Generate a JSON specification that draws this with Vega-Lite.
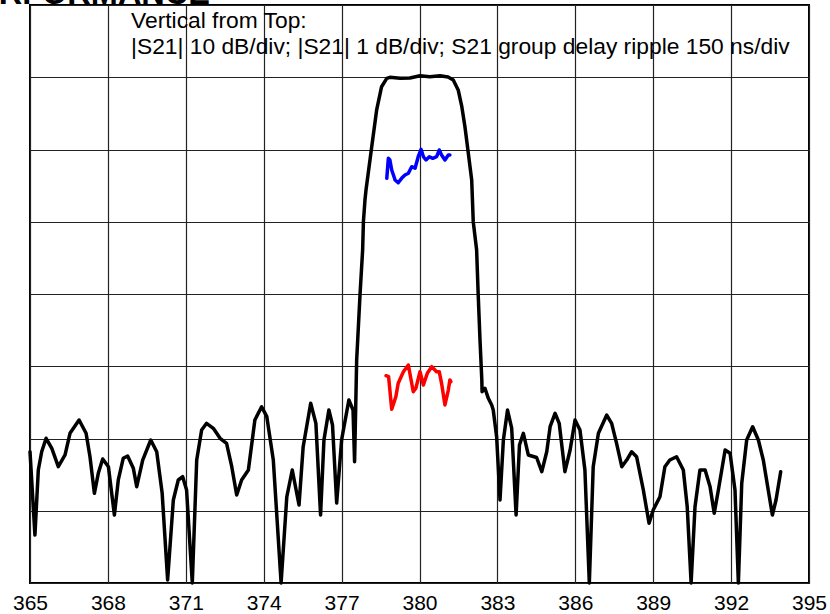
{
  "$schema": "https://vega.github.io/schema/vega-lite/v6.json",
  "autosize": {"type": "none"},
  "width": 779,
  "height": 578,
  "padding": {"left": 30, "top": 5, "right": 21, "bottom": 31},
  "background": "white",
  "config": {
    "font": "Liberation Sans",
    "view": {"stroke": "#000000", "strokeWidth": 2}
  },
  "layer": [
    {
      "data": {"values": [
        {"f":365.00,"v":-61.83,"s":"S21 10 dB/div"},{"f":365.19,"v":-73.36,"s":"S21 10 dB/div"},{"f":365.32,"v":-64.36,"s":"S21 10 dB/div"},{"f":365.45,"v":-61.83,"s":"S21 10 dB/div"},{"f":365.62,"v":-59.97,"s":"S21 10 dB/div"},{"f":365.84,"v":-61.36,"s":"S21 10 dB/div"},{"f":366.09,"v":-63.90,"s":"S21 10 dB/div"},{"f":366.35,"v":-62.28,"s":"S21 10 dB/div"},{"f":366.54,"v":-59.28,"s":"S21 10 dB/div"},{"f":366.89,"v":-57.44,"s":"S21 10 dB/div"},
        {"f":367.16,"v":-59.28,"s":"S21 10 dB/div"},{"f":367.31,"v":-62.52,"s":"S21 10 dB/div"},{"f":367.48,"v":-67.59,"s":"S21 10 dB/div"},{"f":367.63,"v":-64.82,"s":"S21 10 dB/div"},{"f":367.80,"v":-62.84,"s":"S21 10 dB/div"},{"f":368.02,"v":-63.90,"s":"S21 10 dB/div"},{"f":368.25,"v":-70.59,"s":"S21 10 dB/div"},{"f":368.40,"v":-65.74,"s":"S21 10 dB/div"},{"f":368.59,"v":-62.74,"s":"S21 10 dB/div"},{"f":368.76,"v":-62.42,"s":"S21 10 dB/div"},
        {"f":368.98,"v":-64.13,"s":"S21 10 dB/div"},{"f":369.11,"v":-66.67,"s":"S21 10 dB/div"},{"f":369.34,"v":-62.98,"s":"S21 10 dB/div"},{"f":369.65,"v":-60.21,"s":"S21 10 dB/div"},{"f":369.88,"v":-61.83,"s":"S21 10 dB/div"},{"f":370.09,"v":-67.59,"s":"S21 10 dB/div"},{"f":370.30,"v":-79.58,"s":"S21 10 dB/div"},{"f":370.52,"v":-68.51,"s":"S21 10 dB/div"},{"f":370.71,"v":-65.74,"s":"S21 10 dB/div"},{"f":370.88,"v":-65.29,"s":"S21 10 dB/div"},
        {"f":371.03,"v":-67.13,"s":"S21 10 dB/div"},{"f":371.25,"v":-80.0,"s":"S21 10 dB/div"},{"f":371.42,"v":-62.98,"s":"S21 10 dB/div"},{"f":371.61,"v":-58.82,"s":"S21 10 dB/div"},{"f":371.80,"v":-57.90,"s":"S21 10 dB/div"},{"f":372.06,"v":-58.59,"s":"S21 10 dB/div"},{"f":372.32,"v":-59.97,"s":"S21 10 dB/div"},{"f":372.57,"v":-60.67,"s":"S21 10 dB/div"},{"f":372.77,"v":-63.90,"s":"S21 10 dB/div"},{"f":372.96,"v":-67.82,"s":"S21 10 dB/div"},
        {"f":373.15,"v":-65.74,"s":"S21 10 dB/div"},{"f":373.41,"v":-64.36,"s":"S21 10 dB/div"},{"f":373.66,"v":-57.44,"s":"S21 10 dB/div"},{"f":373.92,"v":-55.60,"s":"S21 10 dB/div"},{"f":374.12,"v":-56.98,"s":"S21 10 dB/div"},{"f":374.37,"v":-62.98,"s":"S21 10 dB/div"},{"f":374.67,"v":-80.0,"s":"S21 10 dB/div"},{"f":374.89,"v":-68.06,"s":"S21 10 dB/div"},{"f":375.10,"v":-64.36,"s":"S21 10 dB/div"},{"f":375.36,"v":-69.21,"s":"S21 10 dB/div"},
        {"f":375.52,"v":-61.14,"s":"S21 10 dB/div"},{"f":375.81,"v":-55.13,"s":"S21 10 dB/div"},{"f":376.01,"v":-57.90,"s":"S21 10 dB/div"},{"f":376.19,"v":-70.59,"s":"S21 10 dB/div"},{"f":376.32,"v":-60.21,"s":"S21 10 dB/div"},{"f":376.51,"v":-56.06,"s":"S21 10 dB/div"},{"f":376.65,"v":-58.13,"s":"S21 10 dB/div"},{"f":376.81,"v":-68.93,"s":"S21 10 dB/div"},{"f":377.00,"v":-60.21,"s":"S21 10 dB/div"},{"f":377.28,"v":-54.67,"s":"S21 10 dB/div"},
        {"f":377.44,"v":-56.06,"s":"S21 10 dB/div"},{"f":377.50,"v":-63.21,"s":"S21 10 dB/div"},{"f":377.58,"v":-49.14,"s":"S21 10 dB/div"},{"f":377.62,"v":-46.37,"s":"S21 10 dB/div"},{"f":377.71,"v":-40.04,"s":"S21 10 dB/div"},{"f":377.81,"v":-33.91,"s":"S21 10 dB/div"},{"f":377.84,"v":-29.99,"s":"S21 10 dB/div"},{"f":377.90,"v":-26.99,"s":"S21 10 dB/div"},{"f":377.94,"v":-25.61,"s":"S21 10 dB/div"},{"f":378.16,"v":-19.61,"s":"S21 10 dB/div"},
        {"f":378.35,"v":-14.53,"s":"S21 10 dB/div"},{"f":378.54,"v":-11.31,"s":"S21 10 dB/div"},{"f":378.74,"v":-10.15,"s":"S21 10 dB/div"},{"f":378.86,"v":-10.01,"s":"S21 10 dB/div"},{"f":379.25,"v":-10.15,"s":"S21 10 dB/div"},{"f":379.63,"v":-10.10,"s":"S21 10 dB/div"},{"f":380.02,"v":-9.79,"s":"S21 10 dB/div"},{"f":380.40,"v":-9.92,"s":"S21 10 dB/div"},{"f":380.79,"v":-9.79,"s":"S21 10 dB/div"},{"f":381.10,"v":-9.97,"s":"S21 10 dB/div"},
        {"f":381.30,"v":-10.38,"s":"S21 10 dB/div"},{"f":381.49,"v":-11.76,"s":"S21 10 dB/div"},{"f":381.63,"v":-14.08,"s":"S21 10 dB/div"},{"f":381.75,"v":-16.84,"s":"S21 10 dB/div"},{"f":381.88,"v":-20.53,"s":"S21 10 dB/div"},{"f":382.01,"v":-24.22,"s":"S21 10 dB/div"},{"f":382.07,"v":-29.99,"s":"S21 10 dB/div"},{"f":382.20,"v":-33.91,"s":"S21 10 dB/div"},{"f":382.26,"v":-40.04,"s":"S21 10 dB/div"},{"f":382.33,"v":-46.37,"s":"S21 10 dB/div"},
        {"f":382.40,"v":-51.90,"s":"S21 10 dB/div"},{"f":382.41,"v":-53.52,"s":"S21 10 dB/div"},{"f":382.52,"v":-53.05,"s":"S21 10 dB/div"},{"f":382.65,"v":-54.44,"s":"S21 10 dB/div"},{"f":382.78,"v":-55.36,"s":"S21 10 dB/div"},{"f":382.84,"v":-56.06,"s":"S21 10 dB/div"},{"f":382.97,"v":-59.75,"s":"S21 10 dB/div"},{"f":383.10,"v":-68.51,"s":"S21 10 dB/div"},{"f":383.23,"v":-60.21,"s":"S21 10 dB/div"},{"f":383.39,"v":-56.06,"s":"S21 10 dB/div"},
        {"f":383.55,"v":-58.55,"s":"S21 10 dB/div"},{"f":383.72,"v":-70.59,"s":"S21 10 dB/div"},{"f":383.85,"v":-60.90,"s":"S21 10 dB/div"},{"f":384.00,"v":-59.28,"s":"S21 10 dB/div"},{"f":384.19,"v":-62.28,"s":"S21 10 dB/div"},{"f":384.51,"v":-62.63,"s":"S21 10 dB/div"},{"f":384.71,"v":-64.59,"s":"S21 10 dB/div"},{"f":384.90,"v":-61.83,"s":"S21 10 dB/div"},{"f":385.03,"v":-58.37,"s":"S21 10 dB/div"},{"f":385.22,"v":-56.51,"s":"S21 10 dB/div"},
        {"f":385.38,"v":-57.90,"s":"S21 10 dB/div"},{"f":385.60,"v":-64.59,"s":"S21 10 dB/div"},{"f":385.80,"v":-61.59,"s":"S21 10 dB/div"},{"f":385.99,"v":-57.44,"s":"S21 10 dB/div"},{"f":386.18,"v":-58.82,"s":"S21 10 dB/div"},{"f":386.37,"v":-64.36,"s":"S21 10 dB/div"},{"f":386.54,"v":-80.0,"s":"S21 10 dB/div"},{"f":386.69,"v":-63.90,"s":"S21 10 dB/div"},{"f":386.89,"v":-59.28,"s":"S21 10 dB/div"},{"f":387.21,"v":-56.75,"s":"S21 10 dB/div"},
        {"f":387.40,"v":-57.90,"s":"S21 10 dB/div"},{"f":387.59,"v":-60.67,"s":"S21 10 dB/div"},{"f":387.79,"v":-63.90,"s":"S21 10 dB/div"},{"f":387.98,"v":-62.98,"s":"S21 10 dB/div"},{"f":388.17,"v":-61.83,"s":"S21 10 dB/div"},{"f":388.36,"v":-62.52,"s":"S21 10 dB/div"},{"f":388.62,"v":-67.13,"s":"S21 10 dB/div"},{"f":388.84,"v":-71.74,"s":"S21 10 dB/div"},{"f":389.00,"v":-69.90,"s":"S21 10 dB/div"},{"f":389.26,"v":-68.06,"s":"S21 10 dB/div"},
        {"f":389.45,"v":-63.90,"s":"S21 10 dB/div"},{"f":389.64,"v":-62.98,"s":"S21 10 dB/div"},{"f":389.90,"v":-62.52,"s":"S21 10 dB/div"},{"f":390.16,"v":-64.36,"s":"S21 10 dB/div"},{"f":390.31,"v":-69.44,"s":"S21 10 dB/div"},{"f":390.46,"v":-80.0,"s":"S21 10 dB/div"},{"f":390.61,"v":-69.44,"s":"S21 10 dB/div"},{"f":390.80,"v":-64.36,"s":"S21 10 dB/div"},{"f":391.00,"v":-64.36,"s":"S21 10 dB/div"},{"f":391.19,"v":-66.67,"s":"S21 10 dB/div"},
        {"f":391.35,"v":-70.35,"s":"S21 10 dB/div"},{"f":391.51,"v":-67.13,"s":"S21 10 dB/div"},{"f":391.77,"v":-61.59,"s":"S21 10 dB/div"},{"f":391.96,"v":-62.05,"s":"S21 10 dB/div"},{"f":392.15,"v":-67.13,"s":"S21 10 dB/div"},{"f":392.28,"v":-80.0,"s":"S21 10 dB/div"},{"f":392.41,"v":-66.20,"s":"S21 10 dB/div"},{"f":392.60,"v":-60.21,"s":"S21 10 dB/div"},{"f":392.83,"v":-58.37,"s":"S21 10 dB/div"},{"f":393.05,"v":-60.21,"s":"S21 10 dB/div"},
        {"f":393.24,"v":-62.98,"s":"S21 10 dB/div"},{"f":393.43,"v":-67.13,"s":"S21 10 dB/div"},{"f":393.59,"v":-70.59,"s":"S21 10 dB/div"},{"f":393.73,"v":-68.51,"s":"S21 10 dB/div"},{"f":393.91,"v":-64.59,"s":"S21 10 dB/div"},
        {"f":378.74,"v":-23.99,"s":"S21 1 dB/div"},{"f":378.80,"v":-21.22,"s":"S21 1 dB/div"},{"f":378.86,"v":-21.45,"s":"S21 1 dB/div"},{"f":378.93,"v":-22.84,"s":"S21 1 dB/div"},{"f":379.06,"v":-24.22,"s":"S21 1 dB/div"},{"f":379.18,"v":-24.60,"s":"S21 1 dB/div"},{"f":379.31,"v":-23.99,"s":"S21 1 dB/div"},{"f":379.44,"v":-23.53,"s":"S21 1 dB/div"},{"f":379.57,"v":-23.29,"s":"S21 1 dB/div"},{"f":379.70,"v":-22.38,"s":"S21 1 dB/div"},
        {"f":379.83,"v":-22.60,"s":"S21 1 dB/div"},{"f":379.95,"v":-21.00,"s":"S21 1 dB/div"},{"f":380.06,"v":-19.97,"s":"S21 1 dB/div"},{"f":380.15,"v":-21.00,"s":"S21 1 dB/div"},{"f":380.25,"v":-21.45,"s":"S21 1 dB/div"},{"f":380.38,"v":-21.00,"s":"S21 1 dB/div"},{"f":380.51,"v":-21.22,"s":"S21 1 dB/div"},{"f":380.66,"v":-21.00,"s":"S21 1 dB/div"},{"f":380.76,"v":-20.07,"s":"S21 1 dB/div"},{"f":380.85,"v":-20.76,"s":"S21 1 dB/div"},
        {"f":380.98,"v":-21.45,"s":"S21 1 dB/div"},{"f":381.11,"v":-20.76,"s":"S21 1 dB/div"},{"f":381.17,"v":-20.76,"s":"S21 1 dB/div"},
        {"f":378.71,"v":-51.31,"s":"Group delay"},{"f":378.81,"v":-51.45,"s":"Group delay"},{"f":378.93,"v":-55.96,"s":"Group delay"},{"f":379.09,"v":-54.21,"s":"Group delay"},{"f":379.18,"v":-52.36,"s":"Group delay"},{"f":379.38,"v":-50.75,"s":"Group delay"},{"f":379.57,"v":-49.83,"s":"Group delay"},{"f":379.70,"v":-52.36,"s":"Group delay"},{"f":379.76,"v":-53.52,"s":"Group delay"},{"f":379.86,"v":-53.05,"s":"Group delay"},
        {"f":380.02,"v":-50.75,"s":"Group delay"},{"f":380.15,"v":-52.60,"s":"Group delay"},{"f":380.30,"v":-50.98,"s":"Group delay"},{"f":380.47,"v":-50.06,"s":"Group delay"},{"f":380.66,"v":-50.75,"s":"Group delay"},{"f":380.76,"v":-50.75,"s":"Group delay"},{"f":380.85,"v":-52.36,"s":"Group delay"},{"f":380.98,"v":-55.36,"s":"Group delay"},{"f":381.11,"v":-53.29,"s":"Group delay"},{"f":381.17,"v":-51.90,"s":"Group delay"},
        {"f":381.21,"v":-52.14,"s":"Group delay"}
      ]},
      "mark": {"type": "line", "strokeWidth": 3.5, "strokeJoin": "round", "strokeCap": "round", "clip": false},
      "encoding": {
        "x": {
          "field": "f", "type": "quantitative",
          "scale": {"domain": [365, 395], "nice": false, "zero": false},
          "axis": {
            "values": [365, 368, 371, 374, 377, 380, 383, 386, 389, 392, 395],
            "title": null, "grid": true, "gridColor": "#222222", "gridWidth": 1.2, "gridOpacity": 1,
            "ticks": false, "domain": false,
            "labelFont": "Liberation Sans", "labelFontSize": 21, "labelColor": "#000000",
            "labelPadding": 9, "labelFlush": false, "labelOverlap": false
          }
        },
        "y": {
          "field": "v", "type": "quantitative",
          "scale": {"domain": [-80, 0], "nice": false, "zero": false},
          "axis": {
            "values": [-80, -70, -60, -50, -40, -30, -20, -10, 0],
            "title": null, "grid": true, "gridColor": "#222222", "gridWidth": 1.2, "gridOpacity": 1,
            "ticks": false, "domain": false, "labels": false
          }
        },
        "color": {
          "field": "s", "type": "nominal",
          "scale": {"domain": ["S21 10 dB/div", "S21 1 dB/div", "Group delay"], "range": ["#000000", "#0000ff", "#ff0000"]},
          "legend": null
        },
        "order": {"field": "f", "type": "quantitative"}
      }
    },
    {
      "data": {"values": [
        {"f": 368.89, "v": -3.18, "t": "Vertical from Top:"},
        {"f": 368.89, "v": -6.78, "t": "|S21| 10 dB/div; |S21| 1 dB/div; S21 group delay ripple 150 ns/div"}
      ]},
      "mark": {"type": "text", "align": "left", "baseline": "alphabetic", "font": "Liberation Sans", "fontSize": 22.8, "color": "#000000", "clip": false},
      "encoding": {
        "x": {"field": "f", "type": "quantitative"},
        "y": {"field": "v", "type": "quantitative"},
        "text": {"field": "t"}
      }
    },
    {
      "data": {"values": [
        {"f": 365, "v": 0, "t": "PERFORMANCE"}
      ]},
      "mark": {"type": "text", "align": "left", "baseline": "alphabetic", "font": "Liberation Sans", "fontSize": 32.5, "fontWeight": "bold", "color": "#000000", "dx": -74.6, "dy": -1, "clip": false},
      "encoding": {
        "x": {"field": "f", "type": "quantitative"},
        "y": {"field": "v", "type": "quantitative"},
        "text": {"field": "t"}
      }
    }
  ]
}
